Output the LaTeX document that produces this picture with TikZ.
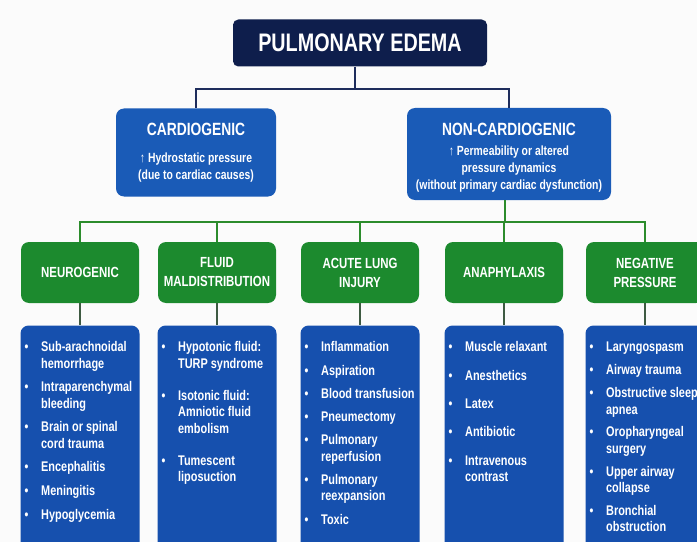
\documentclass[tikz,border=0pt]{standalone}
\usepackage{fontspec}
\setmainfont{Liberation Sans}[FakeStretch=0.78]
\usetikzlibrary{positioning}

\definecolor{edemanavy}{HTML}{0E1E4C}
\definecolor{causeblue}{HTML}{1A5BB7}
\definecolor{listblue}{HTML}{1650AE}
\definecolor{groupgreen}{HTML}{1C8A2E}
\definecolor{busgreen}{HTML}{2C8C2C}
\definecolor{stemgray}{HTML}{3E5A42}
\definecolor{busnavy}{HTML}{1E2D5C}

\newcommand{\causelist}[1]{\begin{tabular}[t]{@{\hspace{0pt}}p{12.5pt}@{}l@{}}#1\end{tabular}}

\tikzset{%
  title box/.style={
    rectangle,
    rounded corners=4pt,
    fill=edemanavy,
    text=white,
    minimum width=190.5pt,
    minimum height=35.25pt,
    font=\bfseries\fontsize{19}{22}\selectfont
  },
  cause box/.style={
    rectangle,
    rounded corners=6pt,
    fill=causeblue,
    text=white,
    align=center,
    font=\bfseries\fontsize{10}{12.75}\selectfont
  },
  group box/.style={
    rectangle,
    rounded corners=6pt,
    fill=groupgreen,
    text=white,
    align=center,
    minimum width=88.5pt,
    minimum height=45.75pt,
    font=\bfseries\fontsize{11}{14.25}\selectfont
  },
  list box/.style={
    rectangle,
    rounded corners=6pt,
    fill=listblue,
    minimum width=89.25pt,
    minimum height=180pt
  },
  causes/.style={
    text=white,
    anchor=base west,
    inner sep=0pt,
    font=\bfseries\fontsize{10.5}{12.25}\selectfont
  },
  bus/.style={line width=1.5pt},
}

\begin{document}
\begin{tikzpicture}[x=0.75pt,y=-0.75pt]
\useasboundingbox (0,0) rectangle (697,542);
\clip (0,0) rectangle (697,542);
\fill[white!97!gray] (0,0) rectangle (697,542);

\node[title box] (title) at (360,43) {PULMONARY EDEMA};

\node[cause box, minimum width=120pt, minimum height=66pt] (card) at (196,152.5)
  {{\fontsize{13.3}{16}\selectfont CARDIOGENIC}\\[7.25pt]↑ Hydrostatic pressure\\(due to cardiac causes)};
\node[cause box, minimum width=153pt, minimum height=69pt] (noncard) at (509,154)
  {{\fontsize{13.3}{16}\selectfont NON-CARDIOGENIC\rule{0pt}{15.5pt}}\\[2.25pt]↑ Permeability or altered\\pressure dynamics\\(without primary cardiac dysfunction)};

\node[group box] (neuro) at (80,272.5) {NEUROGENIC};
\node[group box] (fluid) at (217,272.5) {FLUID\\MALDISTRIBUTION};
\node[group box] (acute) at (360,272.5) {ACUTE LUNG\\INJURY};
\node[group box] (anaph) at (504,272.5) {ANAPHYLAXIS};
\node[group box] (negative) at (645,272.5) {NEGATIVE\\PRESSURE};

\foreach \g in {neuro,fluid,acute,anaph,negative}
  \node[list box, anchor=north, below=16.5pt of \g] (\g-list) {};

\node[causes] (neuro-items) at ([xshift=3pt,yshift=-20pt]neuro-list.north west)
  {\causelist{\textbullet & Sub-arachnoidal\\ & hemorrhage\\[5.5pt]
   \textbullet & Intraparenchymal\\ & bleeding\\[5.5pt]
   \textbullet & Brain or spinal\\ & cord trauma\\[5.5pt]
   \textbullet & Encephalitis\\[5.5pt]
   \textbullet & Meningitis\\[5.5pt]
   \textbullet & Hypoglycemia}};
\node[causes] (fluid-items) at ([xshift=3pt,yshift=-20pt]fluid-list.north west)
  {\causelist{\textbullet & Hypotonic fluid:\\ & TURP syndrome\\[11.8pt]
   \textbullet & Isotonic fluid:\\ & Amniotic fluid\\ & embolism\\[11.8pt]
   \textbullet & Tumescent\\ & liposuction}};
\node[causes] (acute-items) at ([xshift=3pt,yshift=-20pt]acute-list.north west)
  {\causelist{\textbullet & Inflammation\\[5.2pt]
   \textbullet & Aspiration\\[5.2pt]
   \textbullet & Blood transfusion\\[5.2pt]
   \textbullet & Pneumectomy\\[5.2pt]
   \textbullet & Pulmonary\\ & reperfusion\\[5.2pt]
   \textbullet & Pulmonary\\ & reexpansion\\[5.2pt]
   \textbullet & Toxic}};
\node[causes] (anaph-items) at ([xshift=3pt,yshift=-20pt]anaph-list.north west)
  {\causelist{\textbullet & Muscle relaxant\\[9pt]
   \textbullet & Anesthetics\\[9pt]
   \textbullet & Latex\\[9pt]
   \textbullet & Antibiotic\\[9pt]
   \textbullet & Intravenous\\ & contrast}};
\node[causes] (negative-items) at ([xshift=3pt,yshift=-20pt]negative-list.north west)
  {\causelist{\textbullet & Laryngospasm\\[4.9pt]
   \textbullet & Airway trauma\\[4.9pt]
   \textbullet & Obstructive sleep\\ & apnea\\[4.9pt]
   \textbullet & Oropharyngeal\\ & surgery\\[4.9pt]
   \textbullet & Upper airway\\ & collapse\\[4.9pt]
   \textbullet & Bronchial\\ & obstruction}};

\coordinate (topbus) at (355,89);
\draw[bus, busnavy] (title.south -| topbus) -- (topbus);
\draw[bus, busnavy] (card.north) |- (topbus) -| (noncard.north);

\coordinate (groupbus) at (505,222);
\draw[bus, busgreen] (noncard.south -| groupbus) -- (groupbus);
\draw[bus, busgreen] (neuro.north) |- (groupbus) -| (negative.north);
\foreach \g in {fluid,acute,anaph}
  \draw[bus, busgreen] (\g.north) -- (\g.north |- groupbus);

\foreach \g in {neuro,fluid,acute,anaph,negative}
  \draw[bus, stemgray] (\g.south) -- (\g-list.north);
\end{tikzpicture}
\end{document}
